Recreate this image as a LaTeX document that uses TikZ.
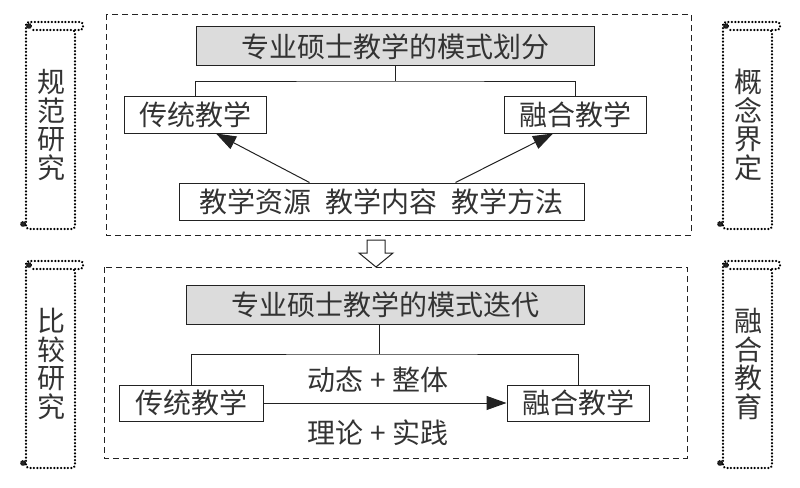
\documentclass[tikz,border=0pt]{standalone}
\usepackage{fontspec}
\newfontfamily\cjk{Noto Sans CJK SC}
\usetikzlibrary{arrows.meta}
\definecolor{linegray}{HTML}{222222}
\definecolor{boxgray}{HTML}{DCDCDC}
\definecolor{textgray}{HTML}{333333}

\begin{document}
\begin{tikzpicture}[
        x=1pt, y=-1pt,
        every node/.style={align=center, inner sep=0pt, text=textgray, font=\cjk\fontsize{28}{28.5}\selectfont},
        titlebox/.style={rectangle, draw=linegray, fill=boxgray, line width=1pt, minimum width=398pt, minimum height=39pt},
        plainbox/.style={rectangle, draw=linegray, line width=1pt, minimum width=142pt, minimum height=37pt},
        frame/.style={draw=linegray, line width=0.8pt, dash pattern=on 6pt off 4pt},
        scrollline/.style={draw=black, line width=2.3pt, dash pattern=on 0.2pt off 3.2pt, line cap=round, rounded corners=3pt},
        curl/.style={fill=black!85, draw=black, line width=1pt, dash pattern=on 1pt off 1pt},
        link/.style={draw=linegray, line width=1pt},
        arrow/.style={link, -{Triangle[length=20pt, width=14pt]}}
    ]
    \useasboundingbox (0,0) rectangle (800,487);

    % Frames
    \draw [frame] (106,14) rectangle (691,235);
    \draw [frame] (104,267) rectangle (687,458);

    % Scrolls
    \foreach \sx/\sy/\sname/\stext in {25/22/norm/{规\\范\\研\\究}, 25/261/comp/{比\\较\\研\\究}, 722/22/defn/{概\\念\\界\\定}, 722/261/blend/{融\\合\\教\\育}} {
        \draw [scrollline] (\sx+50,\sy+8) -- (\sx+58,\sy+8) -- (\sx+58,\sy) -- (\sx+1,\sy) -- (\sx+1,\sy+207) -- (\sx+50,\sy+207) -- (\sx+50,\sy+8) -- (\sx+7,\sy+8);
        \draw [curl] (\sx+4,\sy+4) circle (2.5pt);
        \draw [curl] (\sx-2,\sy+202) circle (2.5pt);
        \node (note-\sname) at (\sx+26,\sy+103) {\stext};
    }

    % Nodes
    \node (title1) [titlebox] at (395,46.5) {专业硕士教学的模式划分};
    \node (trad1) [plainbox] at (195,114.5) {传统教学};
    \node (fuse1) [plainbox] at (575,114.5) {融合教学};
    \node (res1) [plainbox, minimum width=405pt] at (381.5,201.5) {教学资源\hspace{14pt}教学内容\hspace{14pt}教学方法};

    \node (title2) [titlebox] at (385,304.5) {专业硕士教学的模式迭代};
    \node (trad2) [plainbox, minimum width=144pt, minimum height=36pt] at (191,403) {传统教学};
    \node (fuse2) [plainbox, minimum height=36pt] at (578,403) {融合教学};
    \node (dyn) at (378,380) {动态 + 整体};
    \node (prac) at (378,433) {理论 + 实践};

    \coordinate (split1) at (395,81);
    \coordinate (split2) at (379,354);

    % Arrows
    \draw [link] (title1.south) -- (split1);
    \draw [link] (trad1.north) |- (split1) -| (fuse1.north);
    \draw [arrow] ([xshift=-72pt]res1.north) -- ([xshift=21pt]trad1.south);
    \draw [arrow] ([xshift=74pt]res1.north) -- ([xshift=-22pt]fuse1.south);

    \draw [link, fill=white] (367,240) -- (385,240) -- (385,253) -- (393,253) -- (376,267) -- (359,253) -- (367,253) -- cycle;

    \draw [link] (split2 |- title2.south) -- (split2);
    \draw [link] (trad2.north) |- (split2) -| (fuse2.north);
    \draw [arrow] (trad2.east) -- (fuse2.west);

\end{tikzpicture}
\end{document}
